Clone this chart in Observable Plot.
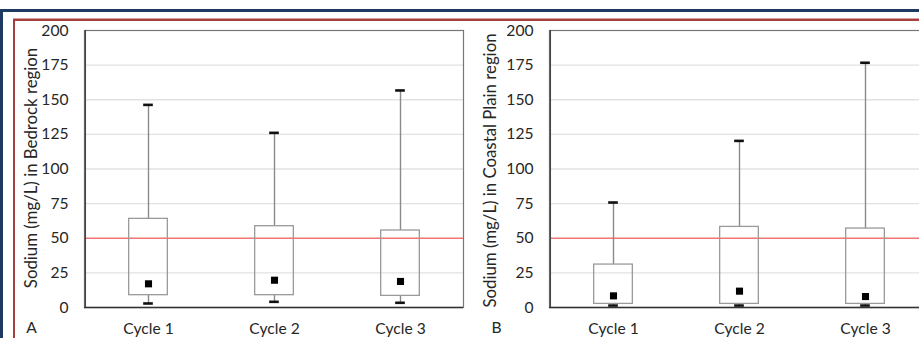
<!DOCTYPE html>
<html>
<head>
<meta charset="utf-8">
<script src="https://cdn.jsdelivr.net/npm/d3@7"></script>
<script src="https://cdn.jsdelivr.net/npm/@observablehq/plot@0.6"></script>
<style>
  html, body { margin: 0; padding: 0; background: #fff; }
  #wrap { position: relative; width: 919px; height: 338px; overflow: hidden; background: #fff; font-family: Lato, "Open Sans", sans-serif; }
  .blue { position: absolute; left: 0; top: 9px; width: 2000px; height: 2000px; border-left: 3px solid #1f3a60; border-top: 3px solid #1f3a60; }
  .pink { position: absolute; left: 13px; top: 18px; width: 2000px; height: 2000px; border-top: 1px solid #d9a0a0; }
  .red { position: absolute; left: 13px; top: 19px; width: 2000px; height: 2000px; border-left: 2px solid #a3403f; border-top: 2px solid #a3403f; }
  .panel { position: absolute; top: 0; width: 465px; height: 338px; }
  .panel svg { max-width: none !important; }
</style>
</head>
<body>
<div id="wrap">
  <div class="blue"></div>
  <div class="pink"></div>
  <div class="red"></div>
  <div class="panel" id="pa" style="left:0px"></div>
  <div class="panel" id="pb" style="left:465px"></div>
</div>
<script>
const cycles = ["Cycle 1", "Cycle 2", "Cycle 3"];
const yTicks = [0, 25, 50, 75, 100, 125, 150, 175, 200];
const gridValues = [25, 75, 100, 125, 150, 175];
const threshold = 50;

const bedrockMin  = [2.9, 4.1, 3.4];
const bedrockQ1   = [8.9, 8.9, 8.4];
const bedrockQ3   = [64.0, 58.7, 55.6];
const bedrockMax  = [146.3, 126.1, 156.7];
const bedrockMean = [17.1, 19.7, 18.8];

const coastalMin  = [1.4, 1.4, 1.4];
const coastalQ1   = [2.6, 2.6, 2.6];
const coastalQ3   = [31.0, 58.2, 57.0];
const coastalMax  = [75.8, 120.3, 176.7];
const coastalMean = [8.4, 11.8, 7.9];

function rows(min, q1, q3, max, mean) {
  return cycles.map((c, i) => ({cycle: c, min: min[i], q1: q1[i], q3: q3[i], max: max[i], mean: mean[i]}));
}

function panel(data, title, letter, titleDx, titleDy) {
  const W = 465, H = 338, ml = 84, mr = 2, mt = 30, mb = 31;
  const step = (W - ml - mr) / cycles.length;
  const boxInset = (step - 39) / 2;
  const capInset = (step - 10) / 2;
  return Plot.plot({
    width: W, height: H,
    marginLeft: ml, marginRight: mr, marginTop: mt, marginBottom: mb,
    style: {fontFamily: "Lato, 'Open Sans', sans-serif", fontSize: "15.6px", color: "#262626", background: "transparent", overflow: "visible"},
    x: {domain: cycles, padding: 0, label: null},
    y: {domain: [0, 200], label: null},
    marks: [
      Plot.ruleY(gridValues, {stroke: "#e2e2e2", strokeWidth: 1.3}),
      Plot.ruleY([threshold], {stroke: "#f27474", strokeWidth: 1.6}),
      Plot.ruleX(data, {x: "cycle", y1: "q3", y2: "max", stroke: "#8a8a8a", strokeWidth: 1.4}),
      Plot.ruleX(data, {x: "cycle", y1: "min", y2: "q1", stroke: "#8a8a8a", strokeWidth: 1.4}),
      Plot.tickY(data, {x: "cycle", y: "max", stroke: "#111", strokeWidth: 2.6, insetLeft: capInset, insetRight: capInset}),
      Plot.tickY(data, {x: "cycle", y: "min", stroke: "#111", strokeWidth: 2.6, insetLeft: capInset, insetRight: capInset}),
      Plot.barY(data, {x: "cycle", y1: "q1", y2: "q3", fill: "none", stroke: "#9a9a9a", strokeWidth: 1.3, insetLeft: boxInset, insetRight: boxInset}),
      Plot.dot(data, {x: "cycle", y: "mean", symbol: "square", fill: "#000", r: 4}),
      Plot.frame({stroke: "#777", strokeWidth: 1.2}),
      Plot.ruleY([0], {stroke: "#333", strokeWidth: 1.6}),
      Plot.ruleX([0], {x: () => cycles[0], dx: -step / 2, y1: 0, y2: 200, stroke: "#444", strokeWidth: 1.4}),
      Plot.axisY({ticks: yTicks, tickSize: 0, tickPadding: 16, label: null, fontSize: 15.6}),
      Plot.axisX({tickSize: 0, tickPadding: 15, label: null, fontSize: 15.6}),
      Plot.text([title], {frameAnchor: "left", dx: titleDx, dy: titleDy, rotate: -90, textAnchor: "middle", lineAnchor: "middle", fontSize: 16.8, fill: "#262626"}),
      Plot.text([letter], {frameAnchor: "bottom-left", dx: -53, dy: 20, textAnchor: "middle", lineAnchor: "middle", fontSize: 15.6, fill: "#262626"})
    ]
  });
}

document.getElementById("pa").appendChild(
  panel(rows(bedrockMin, bedrockQ1, bedrockQ3, bedrockMax, bedrockMean), "Sodium (mg/L) in Bedrock region", "A", -53, -1));
document.getElementById("pb").appendChild(
  panel(rows(coastalMin, coastalQ1, coastalQ3, coastalMax, coastalMean), "Sodium (mg/L) in Coastal Plain region", "B", -59, 1.5));
</script>
</body>
</html>
